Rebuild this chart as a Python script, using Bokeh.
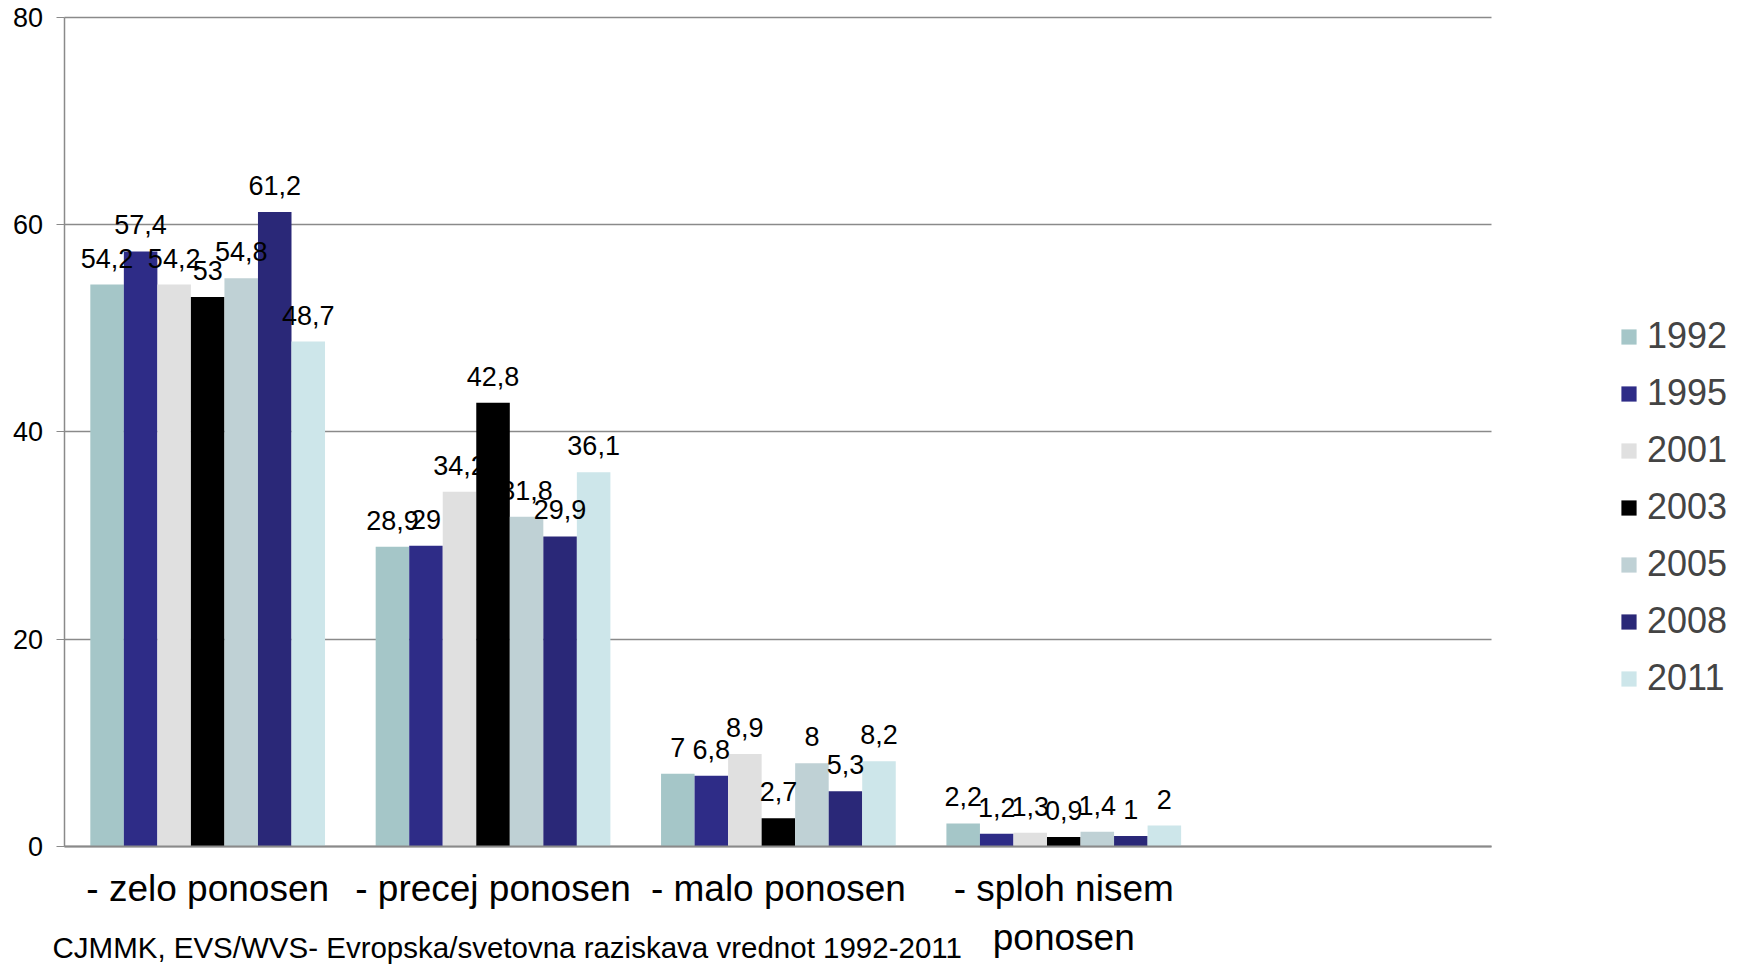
import numpy as np
from bokeh.plotting import figure
from bokeh.models import (ColumnDataSource, Range1d, FixedTicker, Legend, LegendItem,
                          LabelSet, Label)
from bokeh.core.properties import value
from bokeh.embed import file_html
from bokeh.resources import INLINE

categories = ["- zelo ponosen", "- precej ponosen", "- malo ponosen", "- sploh nisem\nponosen"]
years = ["1992", "1995", "2001", "2003", "2005", "2008", "2011"]
v1992 = [54.2, 28.9, 7.0, 2.2]
v1995 = [57.4, 29.0, 6.8, 1.2]
v2001 = [54.2, 34.2, 8.9, 1.3]
v2003 = [53.0, 42.8, 2.7, 0.9]
v2005 = [54.8, 31.8, 8.0, 1.4]
v2008 = [61.2, 29.9, 5.3, 1.0]
v2011 = [48.7, 36.1, 8.2, 2.0]
series = [v1992, v1995, v2001, v2003, v2005, v2008, v2011]
colors = ["#A5C6C8", "#2E2C87", "#E0E0E0", "#000000", "#BFD1D5", "#2A2878", "#CDE6EA"]
y_ticks = [0, 20, 40, 60, 80]
footer = "CJMMK, EVS/WVS- Evropska/svetovna raziskava vrednot 1992-2011"

FONT = "Liberation Sans"
n_slots = 5  # chart keeps an empty fifth category slot
bar_w = 0.1175
GRID = "#8A8A8A"

# the frame fills the whole canvas; axes are pinned at 0 so that the footer
# and the legend can sit in the same drawing area
p = figure(width=1745, height=966, output_backend="svg", toolbar_location=None,
           x_range=Range1d(-0.226, 5.889), y_range=Range1d(-11.6, 81.61),
           min_border_left=0, min_border_right=0, min_border_top=0, min_border_bottom=0)
p.outline_line_color = None
p.background_fill_color = "white"

centers = np.arange(len(categories)) + 0.5
items = []
for i, (yr, vals, col) in enumerate(zip(years, series, colors)):
    xs = centers + (i - 3) * bar_w
    src = ColumnDataSource(dict(x=xs, top=vals,
                                lab=[f"{v:g}".replace(".", ",") for v in vals]))
    r = p.vbar(x="x", top="top", width=bar_w, bottom=0, source=src,
               fill_color=col, line_color=None)
    items.append(LegendItem(label=yr, renderers=[r]))
    ls = LabelSet(x="x", y="top", text="lab", source=src, text_align="center",
                  text_baseline="alphabetic", y_offset=17,
                  text_font=value(FONT), text_font_size=value("27px"), text_color="black")
    p.add_layout(ls)

# gridlines only across the category area
try:
    p.ygrid.cross_bounds = (0, n_slots)
    p.ygrid.grid_line_color = GRID
    p.ygrid.grid_line_width = 1.5
    p.ygrid.ticker = FixedTicker(ticks=y_ticks)
except Exception:
    p.ygrid.grid_line_color = None
    p.segment(x0=0, x1=n_slots, y0=y_ticks, y1=y_ticks, line_color=GRID,
              line_width=1.5, level="underlay")
p.xgrid.grid_line_color = None

# axes
xa = p.xaxis[0]
xa.fixed_location = 0
xa.bounds = (0, n_slots)
xa.ticker = FixedTicker(ticks=list(centers))
xa.major_label_overrides = {float(c): lab for c, lab in zip(centers, categories)}
xa.major_label_text_font = FONT
xa.major_label_text_font_size = "37px"
xa.major_label_text_color = "black"
xa.major_tick_line_color = None
xa.minor_tick_line_color = None
xa.axis_line_color = GRID
xa.axis_line_width = 2
xa.major_label_standoff = 16

ya = p.yaxis[0]
ya.fixed_location = 0
ya.bounds = (0, 80)
ya.ticker = FixedTicker(ticks=y_ticks)
ya.major_label_text_font = FONT
ya.major_label_text_font_size = "27px"
ya.major_label_text_color = "black"
ya.major_tick_line_color = GRID
ya.major_tick_out = 8
ya.major_tick_in = 0
ya.minor_tick_line_color = None
ya.axis_line_color = GRID
ya.axis_line_width = 1.5
ya.major_label_standoff = 14

legend = Legend(items=items, location=(1619, 267), glyph_width=19, glyph_height=19,
                label_text_font=FONT, label_text_font_size="36px", label_standoff=9,
                spacing=15, padding=0, margin=0, border_line_color=None,
                background_fill_alpha=0)
p.add_layout(legend)

p.add_layout(Label(x=52, y=19, x_units="screen", y_units="screen", text=footer,
                   text_font=FONT, text_font_size="29.5px", text_color="black",
                   text_baseline="alphabetic"))

open("out.html", "w").write(file_html(p, INLINE))
